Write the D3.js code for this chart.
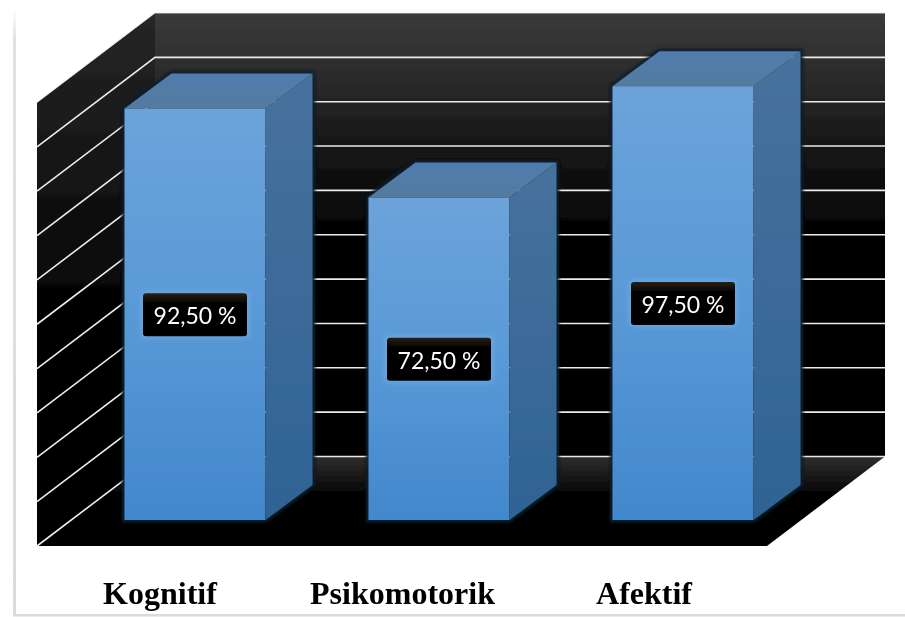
<!DOCTYPE html>
<html>
<head>
<meta charset="utf-8">
<script src="https://cdn.jsdelivr.net/npm/d3@7"></script>
<style>
html, body { margin: 0; padding: 0; background: #fff; }
</style>
</head>
<body>
<div id="chart"></div>
<script>
// chart values
var categories = ["Kognitif", "Psikomotorik", "Afektif"];
var values = [92.5, 72.5, 97.5];
var value_labels = ["92,50 %", "72,50 %", "97,50 %"];
var grid_values = [0, 10, 20, 30, 40, 50, 60, 70, 80, 90, 100];

var width = 905, height = 617;

// depth of the 3d box and of each bar
var wall_dx = 118, wall_dy = 89.5;
var bar_dx = 47, bar_dy = 35;

var svg = d3.select("#chart")
    .append("svg")
    .attr("width", width)
    .attr("height", height)
    .style("display", "block");

var wall_x = d3.scaleLinear().domain([0, 1]).range([155, 885]);
var wall_y = d3.scaleLinear().domain([0, 100]).range([456.5, 13]);

var bar_x = d3.scaleBand()
    .domain(categories)
    .range([73, 805])
    .paddingInner(0.422)
    .paddingOuter(0.211);
var bar_y = d3.scaleLinear().domain([0, 100]).range([520, 75]);

var label_x = d3.scaleOrdinal()
    .domain(categories)
    .range([160, 402.5, 644]);

var poly = d3.line().x(function (d) { return d[0]; }).y(function (d) { return d[1]; });

var defs = svg.append("defs");

function add_gradient(id, stops) {
    var g = defs.append("linearGradient")
        .attr("id", id)
        .attr("x1", 0).attr("y1", 0).attr("x2", 0).attr("y2", 1);
    stops.forEach(function (s) {
        g.append("stop").attr("offset", s[0]).attr("stop-color", s[1]);
    });
}
add_gradient("wall_grad", [[0, "#3b3b3b"], [0.15, "#2a2a2a"], [0.3, "#171717"], [0.42, "#0a0a0a"], [0.55, "#000"], [1, "#000"]]);
add_gradient("side_grad", [[0, "#262626"], [0.25, "#181818"], [0.45, "#0a0a0a"], [0.62, "#000"], [1, "#000"]]);
add_gradient("floor_grad", [[0, "#302e2b"], [0.2, "#1c1b1a"], [0.4, "#050505"], [0.5, "#000"], [1, "#000"]]);
add_gradient("front_grad", [[0, "#6ca3da"], [0.5, "#5999d7"], [1, "#4288cc"]]);
add_gradient("top_grad", [[0, "#4f7cae"], [1, "#547a9f"]]);
add_gradient("right_grad", [[0, "#47729e"], [0.5, "#3c6a98"], [1, "#2e6394"]]);
add_gradient("box_grad", [[0, "#2a1f16"], [0.25, "#000"], [1, "#000"]]);
add_gradient("frame_grad", [[0, "#fff"], [0.05, "#e2e2e2"], [1, "#dadada"]]);

function add_blur(id, amount) {
    defs.append("filter").attr("id", id)
        .attr("x", "-10%").attr("y", "-10%").attr("width", "120%").attr("height", "120%")
        .append("feGaussianBlur").attr("stdDeviation", amount);
}
add_blur("soft", 0.6);
add_blur("soft_text", 0.35);
add_blur("box_glow", 2.5);
add_blur("bar_glow", 1.5);

// outer frame of the picture
svg.append("rect")
    .attr("x", 13).attr("y", 8)
    .attr("width", 3).attr("height", 607)
    .attr("fill", "url(#frame_grad)");
svg.append("rect")
    .attr("x", 13).attr("y", 614)
    .attr("width", width - 13).attr("height", 2.5)
    .attr("fill", "#dadada");

var box = svg.append("g").attr("filter", "url(#soft)");

// back wall
box.append("rect")
    .attr("x", wall_x(0))
    .attr("y", wall_y(100))
    .attr("width", wall_x(1) - wall_x(0))
    .attr("height", wall_y(0) - wall_y(100))
    .attr("fill", "url(#wall_grad)");

// left wall
box.append("path")
    .attr("d", poly([
        [wall_x(0), wall_y(100)],
        [wall_x(0), wall_y(0)],
        [wall_x(0) - wall_dx, wall_y(0) + wall_dy],
        [wall_x(0) - wall_dx, wall_y(100) + wall_dy]
    ]) + "Z")
    .attr("fill", "url(#side_grad)");

// floor
box.append("path")
    .attr("d", poly([
        [wall_x(0), wall_y(0)],
        [wall_x(1), wall_y(0)],
        [wall_x(1) - wall_dx, wall_y(0) + wall_dy],
        [wall_x(0) - wall_dx, wall_y(0) + wall_dy]
    ]) + "Z")
    .attr("fill", "url(#floor_grad)");

// grid lines on both walls
box.selectAll("path.grid")
    .data(grid_values)
    .enter().append("path")
    .attr("class", "grid")
    .attr("d", function (d) {
        return poly([
            [wall_x(0) - wall_dx, wall_y(d) + wall_dy],
            [wall_x(0), wall_y(d)],
            [wall_x(1), wall_y(d)]
        ]);
    })
    .attr("fill", "none")
    .attr("stroke", "#ececec")
    .attr("stroke-width", function (d) { return d == 100 ? 0.8 : 1.6; });

// bars
var bars = box.selectAll("g.bar")
    .data(categories)
    .enter().append("g")
    .attr("class", "bar");

// dark halo behind the top and the back of a bar
bars.append("path")
    .attr("d", function (d, i) {
        var x0 = bar_x(d), x1 = x0 + bar_x.bandwidth(), y0 = bar_y(values[i]), y1 = bar_y(0);
        return poly([[x0, y0], [x0 + bar_dx, y0 - bar_dy], [x1 + bar_dx, y0 - bar_dy], [x1 + bar_dx, y1 - bar_dy], [x1, y1], [x0, y1]]) + "Z";
    })
    .attr("fill", "none")
    .attr("stroke", "#0a1c2c")
    .attr("stroke-width", 5)
    .attr("filter", "url(#bar_glow)");

bars.append("rect")
    .attr("x", function (d) { return bar_x(d); })
    .attr("y", function (d, i) { return bar_y(values[i]); })
    .attr("width", bar_x.bandwidth())
    .attr("height", function (d, i) { return bar_y(0) - bar_y(values[i]); })
    .attr("fill", "url(#front_grad)");

bars.append("path")
    .attr("d", function (d, i) {
        var x0 = bar_x(d), x1 = x0 + bar_x.bandwidth(), y0 = bar_y(values[i]);
        return poly([[x0, y0], [x0 + bar_dx, y0 - bar_dy], [x1 + bar_dx, y0 - bar_dy], [x1, y0]]) + "Z";
    })
    .attr("fill", "url(#top_grad)");

bars.append("path")
    .attr("d", function (d, i) {
        var x1 = bar_x(d) + bar_x.bandwidth(), y0 = bar_y(values[i]), y1 = bar_y(0);
        return poly([[x1, y0], [x1 + bar_dx, y0 - bar_dy], [x1 + bar_dx, y1 - bar_dy], [x1, y1]]) + "Z";
    })
    .attr("fill", "url(#right_grad)");

// value labels
var value_label = svg.selectAll("g.value")
    .data(categories)
    .enter().append("g")
    .attr("class", "value")
    .attr("transform", function (d, i) {
        var mid = (bar_y(values[i]) + bar_y(0)) / 2;
        return "translate(" + (bar_x(d) + bar_x.bandwidth() / 2) + "," + (mid + 0.5) + ")";
    });

value_label.append("rect")
    .attr("x", -55).attr("y", -24)
    .attr("width", 110).attr("height", 48)
    .attr("rx", 5)
    .attr("fill", "#7ab3ea")
    .attr("opacity", 0.45)
    .attr("filter", "url(#box_glow)");

value_label.append("rect")
    .attr("x", -52).attr("y", -21.5)
    .attr("width", 104).attr("height", 43)
    .attr("rx", 3)
    .attr("fill", "url(#box_grad)")
    .attr("filter", "url(#soft)");

value_label.append("text")
    .attr("text-anchor", "middle")
    .attr("y", 9.5)
    .attr("fill", "#fff")
    .attr("filter", "url(#soft_text)")
    .style("font-family", "Lato, 'Open Sans', sans-serif")
    .style("font-size", "23px")
    .text(function (d, i) { return value_labels[i]; });

// category names under the box
svg.selectAll("text.category")
    .data(categories)
    .enter().append("text")
    .attr("class", "category")
    .attr("x", function (d) { return label_x(d); })
    .attr("y", 603.5)
    .attr("text-anchor", "middle")
    .attr("fill", "#000")
    .attr("filter", "url(#soft_text)")
    .style("font-family", "'Liberation Serif', serif")
    .style("font-weight", "bold")
    .style("font-size", "32px")
    .text(function (d) { return d; });
</script>
</body>
</html>
